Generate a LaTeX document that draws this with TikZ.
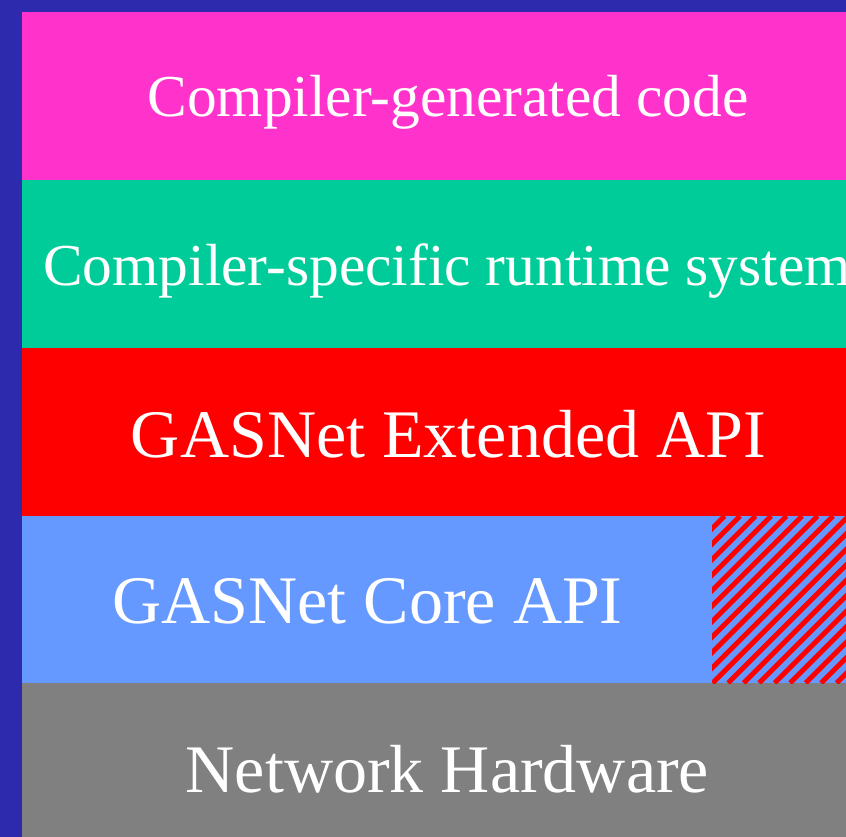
\documentclass[tikz,border=0pt]{standalone}
\usepackage{fontspec}
\setmainfont{Liberation Serif}
\usepackage{tikz}

\definecolor{frameblue}{RGB}{46,42,174}
\definecolor{genpink}{RGB}{255,51,204}
\definecolor{rtgreen}{RGB}{0,204,153}
\definecolor{extred}{RGB}{255,0,0}
\definecolor{coreblue}{RGB}{102,153,255}
\definecolor{hwgray}{RGB}{128,128,128}

\begin{document}
\begin{tikzpicture}[x=0.01cm, y=-0.01cm,
    smalltext/.style={text=white, anchor=base, inner sep=0pt, font=\fontsize{16.9}{20}\selectfont},
    bigtext/.style={text=white, anchor=base, inner sep=0pt, font=\fontsize{19.35}{23}\selectfont}]

        \useasboundingbox (0,0) rectangle (846,837);
        \clip (0,0) rectangle (846,837);
        \fill[frameblue] (0,0) rectangle (846,837);

        % layers
        \fill[genpink] (22,12) rectangle (846,180);
        \fill[rtgreen] (22,180) rectangle (846,348);
        \fill[extred] (22,348) rectangle (846,516);
        \fill[coreblue] (22,516) rectangle (846,683);
        \fill[hwgray] (22,683) rectangle (846,837);

        % hatched corner
        \begin{scope}
          \clip (712,516) rectangle (846,683);
          \foreach \c in {1225,1240.5,...,1545}
            \draw[extred, line width=1.4pt] (\c-683,683) -- (\c-516,516);
        \end{scope}

        \node[smalltext] (gen) at (448,117) {Compiler-generated code};
        \node[smalltext] (rts) at (447,286) {Compiler-specific runtime system};
        \node[bigtext] (ext) at (448.5,457) {GASNet Extended API};
        \node[bigtext] (core) at (367.5,623) {GASNet Core API};
        \node[bigtext] (hw) at (447.5,792) {Network Hardware};
\end{tikzpicture}
\end{document}
